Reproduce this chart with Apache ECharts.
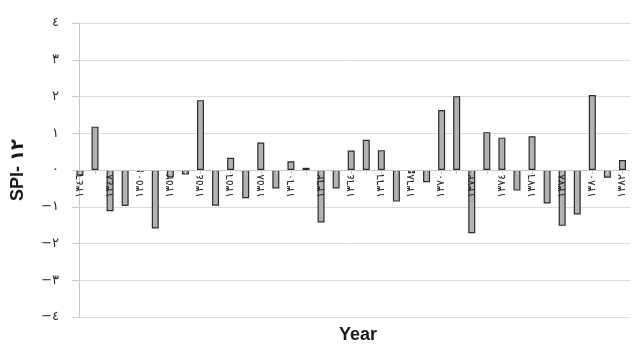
<!DOCTYPE html>
<html>
<head>
<meta charset="utf-8">
<script src="https://cdn.jsdelivr.net/npm/echarts@6/dist/echarts.min.js"></script>
<style>
  html, body { margin: 0; padding: 0; background: #fff; }
  #chart { width: 634px; height: 344px; }
</style>
</head>
<body>
<div id="chart"></div>
<script>
// Hydrological years (Solar Hijri), written with Arabic-Indic digits
const years = [
  '١٣٤٦','١٣٤٧','١٣٤٨','١٣٤٩','١٣٥٠','١٣٥١','١٣٥٢','١٣٥٣','١٣٥٤','١٣٥٥',
  '١٣٥٦','١٣٥٧','١٣٥٨','١٣٥٩','١٣٦٠','١٣٦١','١٣٦٢','١٣٦٣','١٣٦٤','١٣٦٥',
  '١٣٦٦','١٣٦٧','١٣٦٨','١٣٦٩','١٣٧٠','١٣٧١','١٣٧٢','١٣٧٣','١٣٧٤','١٣٧٥',
  '١٣٧٦','١٣٧٧','١٣٧٨','١٣٧٩','١٣٨٠','١٣٨١','١٣٨٢'
];

// 12-month Standardized Precipitation Index per year
const spi12 = [
  -0.15, 1.18, -1.12, -0.98, -0.05, -1.59, -0.20, -0.12, 1.90, -0.97,
   0.33, -0.77, 0.75, -0.50, 0.24, 0.06, -1.43, -0.50, 0.53, 0.82,
   0.54, -0.86, -0.09, -0.33, 1.63, 2.01, -1.72, 1.03, 0.88, -0.56,
   0.92, -0.91, -1.52, -1.21, 2.04, -0.21, 0.27
];

// Value-axis tick labels, from -4 up to 4
const yTickValues = [-4, -3, -2, -1, 0, 1, 2, 3, 4];
const yTickLabels = ['−٤', '−٣', '−٢', '−١', '٠', '١', '٢', '٣', '٤'];

const yAxisTitle = 'SPI- ١٢';
const xAxisTitle = 'Year';

const W = 634, H = 344;
const gridTop = 23, gridBottom = 27;
// The value range is symmetric (-4..4), so the zero line sits half way down the plot;
// the category axis is lifted from the bottom edge up to that line.
const zeroLift = (H - gridTop - gridBottom) / 2;

const chart = echarts.init(document.getElementById('chart'), null, { renderer: 'canvas' });

chart.setOption({
  backgroundColor: '#ffffff',
  animation: false,
  grid: { left: 72.4, right: 4, top: gridTop, bottom: gridBottom, containLabel: false },
  xAxis: {
    type: 'category',
    data: years,
    boundaryGap: true,
    position: 'bottom',
    offset: -zeroLift,
    z: 3,
    axisLine: { onZero: false, lineStyle: { color: '#c8c8c8', width: 1 } },
    axisTick: { show: true, alignWithLabel: true, interval: 0, length: 4, lineStyle: { color: '#c8c8c8' } },
    axisLabel: {
      interval: 1,
      rotate: 90,
      margin: 4,
      color: '#2a2a2a',
      fontSize: 11,
      fontFamily: 'DejaVu Sans'
    },
    splitLine: { show: false }
  },
  yAxis: {
    type: 'value',
    min: -4,
    max: 4,
    interval: 1,
    offset: -6.6,
    name: yAxisTitle,
    nameLocation: 'middle',
    nameRotate: 90,
    nameGap: 52,
    nameTextStyle: { fontSize: 18, fontWeight: 'bold', color: '#1a1a1a', fontFamily: 'Liberation Sans, DejaVu Sans' },
    axisLine: { show: true, onZero: false, lineStyle: { color: '#c8c8c8' } },
    axisTick: { show: true, length: 7, inside: false, lineStyle: { color: '#c8c8c8' } },
    axisLabel: {
      margin: 20,
      color: '#2a2a2a',
      fontSize: 13,
      fontFamily: 'DejaVu Sans',
      formatter: function (v) {
        const i = yTickValues.indexOf(Math.round(v));
        return i >= 0 ? yTickLabels[i] : '';
      }
    },
    splitLine: { show: true, lineStyle: { color: '#dcdcdc', width: 1 } }
  },
  graphic: [{
    type: 'text',
    x: 358,
    y: 335,
    style: {
      text: xAxisTitle,
      fill: '#1a1a1a',
      font: 'bold 18px "Liberation Sans", Arial, sans-serif',
      textAlign: 'center',
      textVerticalAlign: 'middle'
    }
  }],
  series: [{
    type: 'bar',
    data: spi12,
    barWidth: 7,
    itemStyle: { color: '#b2b2b4', borderColor: '#2b2b2b', borderWidth: 1.2 }
  }]
});
</script>
</body>
</html>
